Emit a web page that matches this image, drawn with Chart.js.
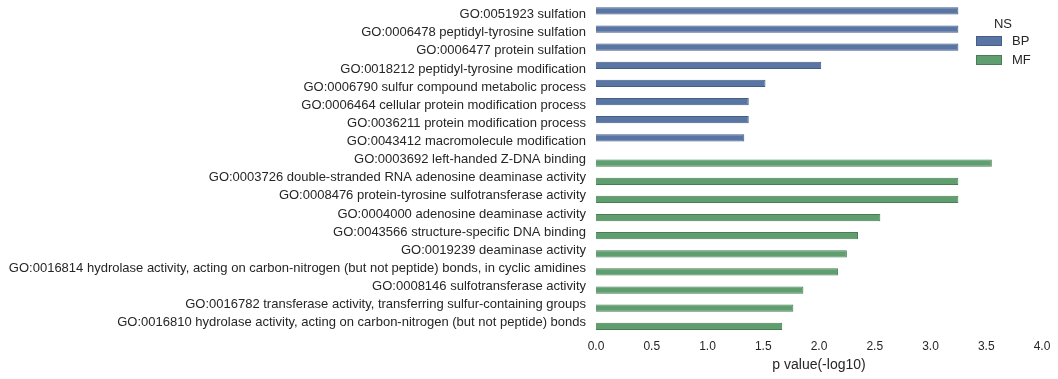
<!DOCTYPE html>
<html><head><meta charset="utf-8">
<script src="https://cdn.jsdelivr.net/npm/chart.js@4/dist/chart.umd.min.js"></script>
<style>html,body{margin:0;padding:0;background:#fff;} #wrap{width:1058px;height:379px;position:relative;}</style>
</head><body><div id="wrap"><canvas id="c"></canvas></div>
<script>
const categories = [
  'GO:0051923 sulfation',
  'GO:0006478 peptidyl-tyrosine sulfation',
  'GO:0006477 protein sulfation',
  'GO:0018212 peptidyl-tyrosine modification',
  'GO:0006790 sulfur compound metabolic process',
  'GO:0006464 cellular protein modification process',
  'GO:0036211 protein modification process',
  'GO:0043412 macromolecule modification',
  'GO:0003692 left-handed Z-DNA binding',
  'GO:0003726 double-stranded RNA adenosine deaminase activity',
  'GO:0008476 protein-tyrosine sulfotransferase activity',
  'GO:0004000 adenosine deaminase activity',
  'GO:0043566 structure-specific DNA binding',
  'GO:0019239 deaminase activity',
  'GO:0016814 hydrolase activity, acting on carbon-nitrogen (but not peptide) bonds, in cyclic amidines',
  'GO:0008146 sulfotransferase activity',
  'GO:0016782 transferase activity, transferring sulfur-containing groups',
  'GO:0016810 hydrolase activity, acting on carbon-nitrogen (but not peptide) bonds'
];
const namespaces = ['BP', 'MF'];
const bpValues = [3.25, 3.25, 3.25, 2.02, 1.52, 1.37, 1.37, 1.33];
const mfValues = [3.55, 3.25, 3.25, 2.55, 2.35, 2.25, 2.17, 1.86, 1.77, 1.67];
const xTicks = [0.0, 0.5, 1.0, 1.5, 2.0, 2.5, 3.0, 3.5, 4.0];
const xTitle = 'p value(-log10)';
const legendTitle = 'NS';

const FONT = '"Liberation Sans", Arial, sans-serif';
const TEXT = '#262626';
const fills = ['#5975a4', '#5f9e6e'];
const edges = ['#465d85', '#4a7d56'];

const bpData = categories.map((c, i) => i < bpValues.length ? bpValues[i] : null);
const mfData = categories.map((c, i) => i >= bpValues.length ? mfValues[i - bpValues.length] : null);

const legendPlugin = {
  id: 'nsLegend',
  afterDraw(chart) {
    const ctx = chart.ctx;
    const ca = chart.chartArea;
    const boxX = ca.right - 66, boxW = 26, boxH = 10;
    ctx.save();
    ctx.font = '13px ' + FONT;
    ctx.fillStyle = TEXT;
    ctx.textAlign = 'center';
    ctx.textBaseline = 'middle';
    ctx.fillText(legendTitle, ca.right - 39, 24);
    chart.data.datasets.forEach((ds, i) => {
      const y = 36 + i * 19;
      ctx.fillStyle = ds.backgroundColor;
      ctx.fillRect(boxX, y, boxW, boxH);
      ctx.strokeStyle = ds.borderColor;
      ctx.lineWidth = 1;
      ctx.strokeRect(boxX + 0.5, y + 0.5, boxW - 1, boxH - 1);
      ctx.fillStyle = TEXT;
      ctx.textAlign = 'left';
      ctx.fillText(ds.label, boxX + 36, y + boxH / 2 + 0.5);
    });
    ctx.restore();
  }
};

new Chart(document.getElementById('c'), {
  type: 'bar',
  data: {
    labels: categories,
    datasets: [
      { label: namespaces[0], data: bpData, backgroundColor: fills[0], borderColor: edges[0], borderWidth: 1 },
      { label: namespaces[1], data: mfData, backgroundColor: fills[1], borderColor: edges[1], borderWidth: 1 }
    ]
  },
  options: {
    indexAxis: 'y',
    responsive: true,
    maintainAspectRatio: false,
    animation: false,
    devicePixelRatio: 1,
    layout: { padding: { top: 5.5, right: 16, left: 0, bottom: 0 } },
    datasets: { bar: { categoryPercentage: 0.8, barPercentage: 1.0, grouped: true } },
    plugins: { legend: { display: false }, tooltip: { enabled: false } },
    scales: {
      x: {
        type: 'linear',
        min: 0, max: 4,
        grid: { display: false, drawTicks: false },
        border: { display: false },
        afterBuildTicks(s) { s.ticks = xTicks.map(v => ({ value: v })); },
        afterFit(s) { s.height = 47.2; s.paddingLeft = 0; s.paddingRight = 0; },
        ticks: {
          padding: 8,
          color: TEXT,
          font: { family: FONT, size: 12 },
          callback: v => Number(v).toFixed(1)
        },
        title: {
          display: true, text: xTitle, color: TEXT,
          font: { family: FONT, size: 14 },
          padding: { top: 0, bottom: 5 }
        }
      },
      y: {
        type: 'category',
        grid: { display: false, drawTicks: false },
        border: { display: false },
        afterFit(s) { s.width = 596; s.paddingTop = 0; s.paddingBottom = 0; },
        ticks: {
          padding: 10,
          color: TEXT,
          autoSkip: false,
          font: { family: FONT, size: 13 }
        }
      }
    }
  },
  plugins: [legendPlugin]
});
</script>
</body></html>
